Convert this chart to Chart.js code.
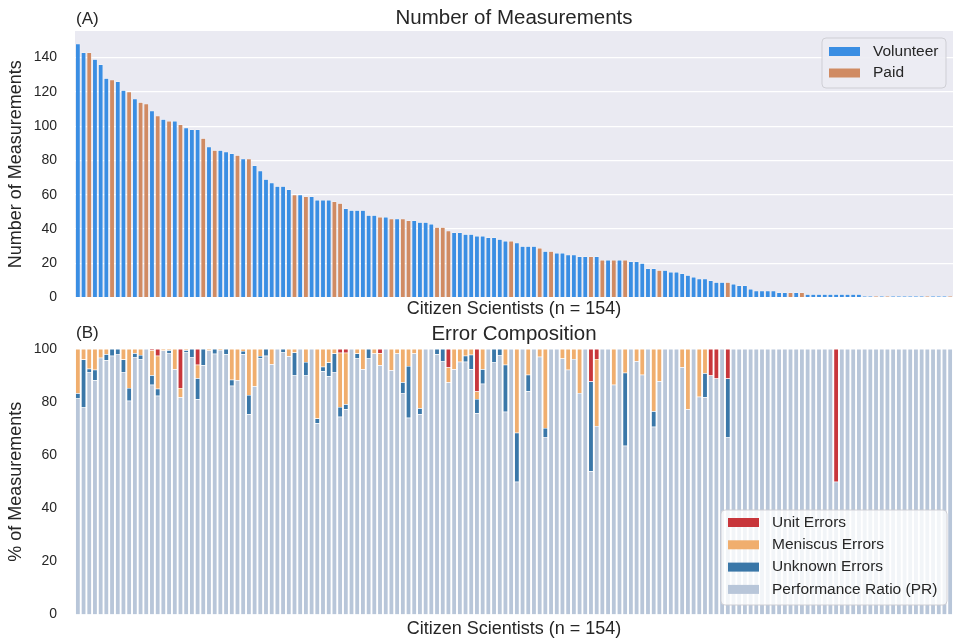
<!DOCTYPE html>
<html>
<head>
<meta charset="utf-8">
<title>Citizen scientist measurements</title>
<script src="https://cdn.jsdelivr.net/npm/chart.js@4.4.0/dist/chart.umd.min.js"></script>
<style>
  html, body { margin: 0; padding: 0; background: #fff; overflow: hidden; }
  #wrap { position: relative; width: 953px; height: 638px; }
  canvas { position: absolute; left: 0; display: block; }
</style>
</head>
<body>
<div id="wrap">
  <canvas id="countChart" width="953" height="324" style="top:0"></canvas>
  <canvas id="errorChart" width="953" height="323" style="top:318px"></canvas>
</div>
<script>
'use strict';

// Panel A: measurements per citizen scientist (sorted)
let measurements = [
  148, 143, 143, 139, 136, 128, 127, 126, 121, 120,
  116, 114, 113, 109, 106, 104, 103, 103, 101, 99,
  98, 98, 93, 88, 86, 86, 85, 84, 83, 81,
  81, 77, 74, 69, 67, 65, 65, 63, 60, 60,
  59, 59, 57, 57, 57, 56, 55, 52, 51, 51,
  51, 48, 48, 47, 47, 46, 46, 46, 45, 45,
  44, 44, 43, 41, 41, 39, 38, 38, 37, 37,
  36, 36, 35, 35, 34, 33, 33, 32, 30, 30,
  30, 29, 27, 27, 26, 26, 25, 25, 24, 24,
  24, 24, 22, 22, 22, 22, 22, 21, 21, 20,
  17, 17, 16, 16, 15, 15, 14, 13, 12, 11,
  11, 10, 9, 9, 9, 8, 7, 7, 5, 4,
  4, 4, 4, 3, 3, 3, 3, 3, 2, 2,
  2, 2, 2, 2, 2, 2, 2, 2, 1, 1,
  1, 1, 1, 1, 1, 1, 1, 1, 1, 1,
  1, 1, 1, 1
];

// positions (in the sorted order) of the paid scientists, the rest are volunteers
let paidIndex = [2, 6, 9, 11, 12, 14, 16, 18, 22, 24, 28, 30, 38, 40, 45, 46, 53, 55, 57, 58,
  63, 64, 65, 76, 81, 83, 90, 92, 94, 96, 102, 114, 125, 127, 140, 142, 149, 153];

// Panel B: % of each scientist's measurements
let prPct = [
  81.4, 78, 91.3, 88.2, 96.7, 95.8, 97.5, 98.1, 91.3, 80.5,
  97, 96, 100, 86.5, 82.4, 99.4, 98.5, 92.4, 81.8, 98.7,
  97, 81.1, 93.9, 99.4, 98.2, 99.6, 98, 86.2, 88.2, 98,
  75.4, 86, 96.4, 97.5, 94.3, 100, 98.7, 97.3, 90, 100,
  90, 100, 72, 91.6, 89.7, 91.3, 74.5, 77.3, 100, 96.4,
  92.4, 96.4, 98.3, 93.9, 100, 92, 98.3, 83.4, 74.1, 98.3,
  75.4, 100, 100, 98, 95.5, 87.5, 92.4, 95.2, 95.2, 92.4,
  75.8, 86.9, 100, 94.9, 97.7, 76.4, 100, 50, 100, 84.1,
  100, 97.1, 66.9, 100, 100, 96.4, 92.2, 96.2, 83.4, 100,
  54, 71, 100, 100, 86.5, 100, 63.6, 100, 95.4, 90.3,
  100, 70.7, 87.9, 100, 100, 100, 93.1, 77.3, 100, 82,
  81.8, 90, 88.9, 100, 66.7, 100, 100, 100, 100, 100,
  100, 100, 100, 100, 100, 100, 100, 100, 100, 100,
  100, 100, 100, 50, 100, 100, 100, 100, 100, 100,
  100, 100, 100, 100, 100, 100, 100, 100, 100, 100,
  100, 100, 100, 100
];
let unknownPct = [
  1.9, 18, 1.3, 4, 0, 2.2, 2.5, 1.9, 4.7, 4.8,
  1.4, 1.7, 0, 3.6, 2.6, 0, 1, 0, 0, 0.8,
  3, 7.9, 6.1, 0, 1.8, 0, 2, 2.2, 0, 1.2,
  7.3, 0, 1, 2.5, 0, 0, 1.3, 0, 8.7, 0,
  5.1, 0, 1.8, 1.7, 5.2, 7, 3.7, 1.9, 0, 1.9,
  0, 3.6, 0, 0, 0, 0, 0, 4.1, 19.5, 0,
  2.3, 0, 0, 2, 4.5, 0, 0, 0, 2.3, 5.4,
  5.4, 5.5, 0, 5.1, 2.3, 17.7, 0, 18.5, 0, 6.2,
  0, 0, 3.4, 0, 0, 0, 0, 0, 0, 0,
  33.8, 0, 0, 0, 0, 0, 27.5, 0, 0, 0,
  0, 5.9, 0, 0, 0, 0, 0, 0, 0, 0,
  9.1, 0, 0, 0, 22.2, 0, 0, 0, 0, 0,
  0, 0, 0, 0, 0, 0, 0, 0, 0, 0,
  0, 0, 0, 0, 0, 0, 0, 0, 0, 0,
  0, 0, 0, 0, 0, 0, 0, 0, 0, 0,
  0, 0, 0, 0
];
let meniscusPct = [
  16.7, 4, 7.4, 7.8, 3.3, 2, 0, 0, 4, 14.7,
  1.6, 2.3, 0, 9.4, 12.5, 0.6, 0.5, 7.6, 3.5, 0.5,
  0, 5.1, 0, 0.6, 0, 0.4, 0, 11.6, 11.8, 0.8,
  17.3, 14, 2.6, 0, 5.7, 0, 0, 2.7, 1.3, 0,
  4.9, 0, 26.2, 6.7, 5.1, 1.7, 20.4, 19.4, 0, 1.7,
  7.6, 0, 1.7, 4.5, 0, 8, 1.7, 12.5, 6.4, 1.7,
  22.3, 0, 0, 0, 0, 5.5, 7.6, 4.8, 2.5, 2.2,
  2.8, 7.6, 0, 0, 0, 5.9, 0, 31.5, 0, 9.7,
  0, 2.9, 29.7, 0, 0, 3.6, 7.8, 3.8, 16.6, 0,
  0, 25.2, 0, 0, 13.5, 0, 8.9, 0, 4.6, 9.7,
  0, 23.4, 12.1, 0, 0, 0, 6.9, 22.7, 0, 18,
  9.1, 0, 0, 0, 0, 0, 0, 0, 0, 0,
  0, 0, 0, 0, 0, 0, 0, 0, 0, 0,
  0, 0, 0, 0, 0, 0, 0, 0, 0, 0,
  0, 0, 0, 0, 0, 0, 0, 0, 0, 0,
  0, 0, 0, 0
];
let unitPct = [
  0, 0, 0, 0, 0, 0, 0, 0, 0, 0,
  0, 0, 0, 0.5, 2.5, 0, 0, 0, 14.7, 0,
  0, 5.9, 0, 0, 0, 0, 0, 0, 0, 0,
  0, 0, 0, 0, 0, 0, 0, 0, 0, 0,
  0, 0, 0, 0, 0, 0, 1.4, 1.4, 0, 0,
  0, 0, 0, 1.6, 0, 0, 0, 0, 0, 0,
  0, 0, 0, 0, 0, 7, 0, 0, 0, 0,
  16, 0, 0, 0, 0, 0, 0, 0, 0, 0,
  0, 0, 0, 0, 0, 0, 0, 0, 0, 0,
  12.2, 3.8, 0, 0, 0, 0, 0, 0, 0, 0,
  0, 0, 0, 0, 0, 0, 0, 0, 0, 0,
  0, 10, 11.1, 0, 11.1, 0, 0, 0, 0, 0,
  0, 0, 0, 0, 0, 0, 0, 0, 0, 0,
  0, 0, 0, 50, 0, 0, 0, 0, 0, 0,
  0, 0, 0, 0, 0, 0, 0, 0, 0, 0,
  0, 0, 0, 0
];

let countTicks = [0, 20, 40, 60, 80, 100, 120, 140];
let pctTicks = [0, 20, 40, 60, 80, 100];

let scientists = measurements.map((v, i) => 'CS ' + (i + 1));
let volunteerData = measurements.map((v, i) => paidIndex.includes(i) ? null : v);
let paidData = measurements.map((v, i) => paidIndex.includes(i) ? v : null);

const FONT = '"Liberation Sans", Arial, sans-serif';
const TEXT = '#262626';

// titles, axis labels and the boxed legends are drawn here
let panelText = {
  id: 'panelText',
  beforeDraw(chart, args, opts) {
    if (!opts.background) return;
    let a = chart.chartArea;
    let ctx = chart.ctx;
    ctx.save();
    ctx.fillStyle = opts.background;
    ctx.fillRect(a.left, a.top, a.right - a.left, a.bottom - a.top);
    ctx.restore();
  },
  afterDraw(chart, args, opts) {
    let a = chart.chartArea;
    let ctx = chart.ctx;
    let cx = (a.left + a.right) / 2;
    ctx.save();
    ctx.fillStyle = TEXT;

    ctx.font = '17px "Liberation Sans Narrow", ' + FONT;
    ctx.textAlign = 'left';
    ctx.textBaseline = 'alphabetic';
    ctx.fillText(opts.tag, a.left + 1, opts.tagY);

    ctx.font = '20.5px ' + FONT;
    ctx.textAlign = 'center';
    ctx.fillText(opts.title, cx, opts.titleY);

    ctx.font = '18px ' + FONT;
    ctx.textBaseline = 'middle';
    ctx.fillText(opts.xTitle, cx, a.bottom + opts.xTitleGap);

    ctx.save();
    ctx.translate(16, (a.top + a.bottom) / 2);
    ctx.rotate(-Math.PI / 2);
    ctx.fillText(opts.yTitle, 0, 0);
    ctx.restore();

    // legend box
    let lg = opts.legend;
    ctx.beginPath();
    ctx.roundRect(lg.x, lg.y, lg.w, lg.h, 4);
    ctx.fillStyle = lg.fill;
    ctx.fill();
    ctx.strokeStyle = 'rgba(204,204,210,0.9)';
    ctx.lineWidth = 1;
    ctx.stroke();

    let sets = chart.data.datasets.slice();
    if (lg.reverse) sets.reverse();
    ctx.font = '15.5px ' + FONT;
    ctx.textAlign = 'left';
    ctx.textBaseline = 'middle';
    sets.forEach((ds, i) => {
      let y = lg.rowY + i * lg.rowGap;
      ctx.fillStyle = ds.backgroundColor;
      ctx.fillRect(lg.x + 7, y - 4.5, 31, 9);
      ctx.fillStyle = TEXT;
      ctx.fillText(ds.label, lg.x + 51, y);
    });
    ctx.restore();
  }
};

function barStyle(color) {
  return {
    backgroundColor: color,
    borderColor: '#ffffff',
    borderWidth: 0.5,
    barPercentage: 0.85,
    categoryPercentage: 1
  };
}

function yAxis(max, ticks, gridColor) {
  return {
    stacked: true,
    min: 0,
    max: max,
    afterFit(scale) { scale.width = 75; },
    afterBuildTicks(scale) { scale.ticks = ticks.map(v => ({ value: v })); },
    ticks: { padding: 18, color: TEXT, font: { family: FONT, size: 14 } },
    grid: gridColor ? { color: gridColor, lineWidth: 1.3, drawTicks: false } : { display: false, drawTicks: false },
    border: { display: false }
  };
}

// the bottom 28px of each canvas are taken by the y tick overflow
let countChart = new Chart(document.getElementById('countChart'), { //eslint-disable-line
  type: 'bar',
  data: {
    labels: scientists,
    datasets: [
      Object.assign({ label: 'Volunteer', data: volunteerData }, barStyle('#3a8ee3')),
      Object.assign({ label: 'Paid', data: paidData }, barStyle('#d08b63'))
    ]
  },
  options: {
    responsive: false,
    animation: false,
    layout: { padding: { top: 31, bottom: 0, left: 0, right: 0 } },
    plugins: {
      legend: { display: false },
      tooltip: { enabled: false },
      panelText: {
        background: '#eaeaf2',
        tag: '(A)', tagY: 24,
        title: 'Number of Measurements', titleY: 24,
        xTitle: 'Citizen Scientists (n = 154)', xTitleGap: 11,
        yTitle: 'Number of Measurements',
        legend: { x: 822, y: 38, w: 124, h: 50, fill: 'rgba(236,236,243,0.9)', rowY: 51.5, rowGap: 21.5, reverse: false }
      }
    },
    scales: {
      x: { stacked: true, display: false, offset: true },
      y: yAxis(155.5, countTicks, '#ffffff')
    }
  },
  plugins: [panelText]
});

let errorChart = new Chart(document.getElementById('errorChart'), { //eslint-disable-line
  type: 'bar',
  data: {
    labels: scientists,
    datasets: [
      Object.assign({ label: 'Performance Ratio (PR)', data: prPct }, barStyle('#b8c6d9')),
      Object.assign({ label: 'Unknown Errors', data: unknownPct }, barStyle('#3a77a8')),
      Object.assign({ label: 'Meniscus Errors', data: meniscusPct }, barStyle('#f0ae6e')),
      Object.assign({ label: 'Unit Errors', data: unitPct }, barStyle('#c8363b'))
    ]
  },
  options: {
    responsive: false,
    animation: false,
    layout: { padding: { top: 31, bottom: 0, left: 0, right: 0 } },
    plugins: {
      legend: { display: false },
      tooltip: { enabled: false },
      panelText: {
        background: null,
        tag: '(B)', tagY: 20,
        title: 'Error Composition', titleY: 21.5,
        xTitle: 'Citizen Scientists (n = 154)', xTitleGap: 14,
        yTitle: '% of Measurements',
        legend: { x: 721, y: 192, w: 226, h: 95, fill: 'rgba(255,255,255,0.82)', rowY: 204.5, rowGap: 22.3, reverse: true }
      }
    },
    scales: {
      x: { stacked: true, display: false, offset: true },
      y: yAxis(100, pctTicks, null)
    }
  },
  plugins: [panelText]
});
</script>
</body>
</html>
